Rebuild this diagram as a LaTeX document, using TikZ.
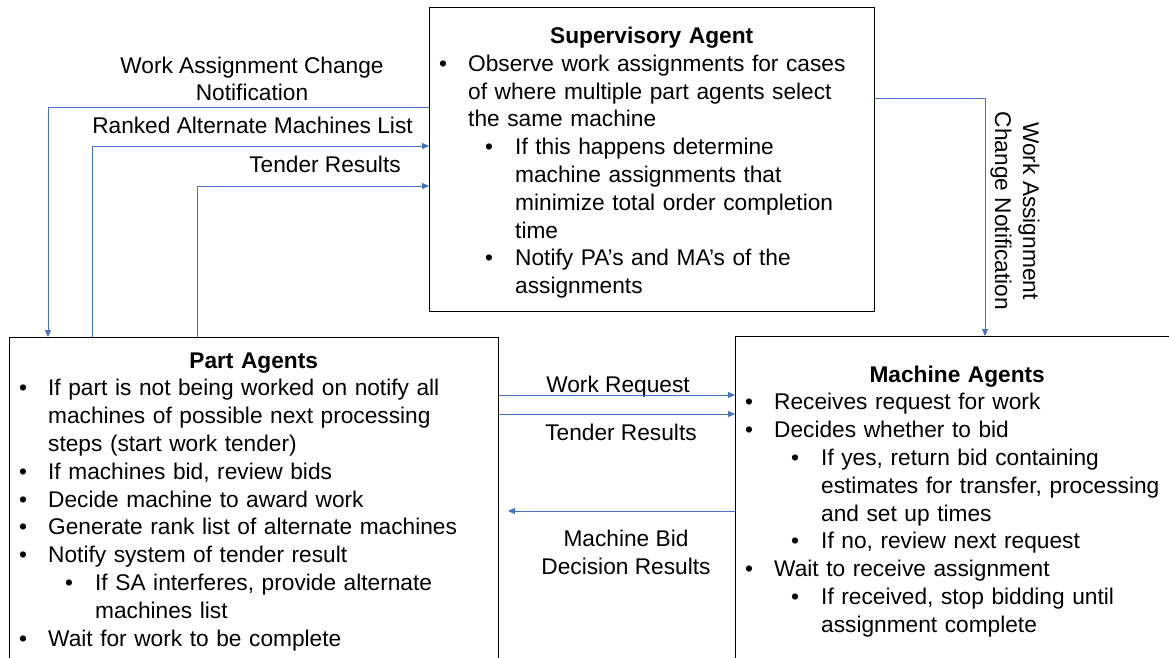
\documentclass[tikz,border=0pt]{standalone}
\usepackage{fontspec}
\setmainfont{Liberation Sans}
\usetikzlibrary{arrows.meta,calc}
\definecolor{linkblue}{HTML}{4472C4}
\tikzset{
  agent/.style={draw,line width=0.9pt,anchor=north west,inner sep=0pt},
  agenttext/.style={anchor=base west,inner sep=0pt,font=\fontsize{22.7}{27.8}\selectfont},
  msg/.style={inner sep=0pt,align=center,font=\fontsize{22.7}{27.8}\selectfont},
  flow/.style={draw=linkblue,line width=0.8pt,-{Triangle[length=7pt,width=6pt]}}
}
\newcommand{\hd}[1]{\noindent\makebox[\linewidth]{\bfseries #1}}
\newcommand{\bl}[1]{\par\hangindent=39pt\hangafter=1\noindent\rlap{\hspace*{10pt}\textbullet}\hspace*{39pt}#1}
\newcommand{\bll}[1]{\par\hangindent=86pt\hangafter=1\noindent\rlap{\hspace*{56pt}\textbullet}\hspace*{86pt}#1}
\newcommand{\nl}{\hfil\break}

\begin{document}
\begin{tikzpicture}[x=1pt,y=-1pt]
  \useasboundingbox (0,0) rectangle (1169,658);
  \clip (0,0) rectangle (1169,658);
  \node[agent,minimum width=445pt,minimum height=304pt] (sa) at (429,7) {};
  \node[agent,minimum width=489pt,minimum height=340pt] (pa) at (9,337) {};
  \node[agent,minimum width=444pt,minimum height=340pt] (ma) at (735,336) {};

  \node[agenttext,text width=445pt] (satext) at (429,43.5) {\hd{Supervisory Agent}
    \bl{Observe work assignments for cases\nl of where multiple part agents select\nl the same machine}
    \bll{If this happens determine\nl machine assignments that\nl minimize total order completion\nl time}
    \bll{Notify PA’s and MA’s of the\nl assignments}\par};
  \node[agenttext,text width=489pt] (patext) at (9,368) {\hd{Part Agents}
    \bl{If part is not being worked on notify all\nl machines of possible next processing\nl steps (start work tender)}
    \bl{If machines bid, review bids}
    \bl{Decide machine to award work}
    \bl{Generate rank list of alternate machines}
    \bl{Notify system of tender result}
    \bll{If SA interferes, provide alternate\nl machines list}
    \bl{Wait for work to be complete}\par};
  \node[agenttext,text width=444pt] (matext) at (735,382) {\hd{Machine Agents}
    \bl{Receives request for work}
    \bl{Decides whether to bid}
    \bll{If yes, return bid containing\nl estimates for transfer, processing\nl and set up times}
    \bll{If no, review next request}
    \bl{Wait to receive assignment}
    \bll{If received, stop bidding until\nl assignment complete}\par};

  \node[msg,anchor=base] (wacnlbl) at (252,101) {Work Assignment Change\\Notification};
  \node[msg,anchor=base] (ranklbl) at (252.5,134) {Ranked Alternate Machines List};
  \node[msg,anchor=base] (tenderlbl) at (325,172) {Tender Results};
  \node[msg,anchor=center,rotate=-90] (notelbl) at (1015,211) {Work Assignment\\Change Notification};
  \node[msg,anchor=base] (reqlbl) at (618,392) {Work Request};
  \node[msg,anchor=base] (reslbl) at (621,440) {Tender Results};
  \node[msg,anchor=base] (bidlbl) at (626,574) {Machine Bid\\Decision Results};

  \coordinate (wacnbend) at (48,107);
  \coordinate (rankbend) at (92,146);
  \coordinate (tenderbend) at (197,186);
  \coordinate (notebend) at (985,98);
  \coordinate (reqrow) at (600,395);
  \coordinate (resrow) at (600,414);
  \coordinate (bidrow) at (600,511);

  \draw[flow] (sa.west |- wacnbend) -| (pa.north -| wacnbend);
  \draw[flow] (pa.north -| rankbend) |- (sa.west |- rankbend);
  \draw[flow] (pa.north -| tenderbend) |- (sa.west |- tenderbend);
  \draw[flow] (sa.east |- notebend) -| (ma.north -| notebend);
  \draw[flow] (pa.east |- reqrow) -- (ma.west |- reqrow);
  \draw[flow] (pa.east |- resrow) -- (ma.west |- resrow);
  \draw[flow,shorten >=9pt] (ma.west |- bidrow) -- (pa.east |- bidrow);
\end{tikzpicture}
\end{document}
